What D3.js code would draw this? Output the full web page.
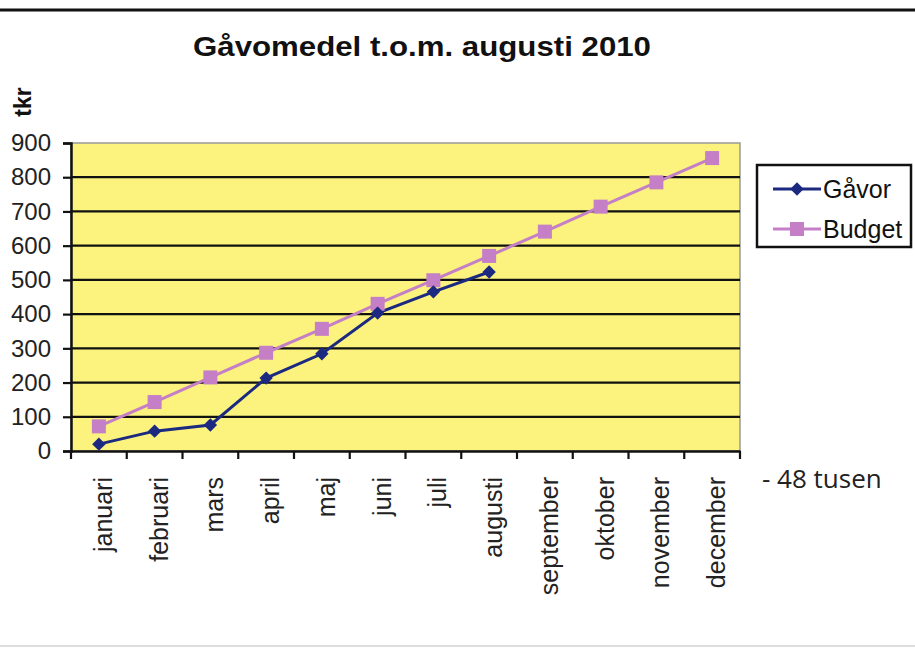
<!DOCTYPE html>
<html><head><meta charset="utf-8">
<script src="https://cdn.jsdelivr.net/npm/d3@7"></script>
<style>body{margin:0;background:#fff;}svg{display:block;}</style>
</head><body>
<svg id="c" width="915" height="650"></svg>
<script>
const months = ["januari","februari","mars","april","maj","juni","juli","augusti","september","oktober","november","december"];
const gavor = [20, 58, 76, 213, 284, 403, 465, 523];
const budget = [72, 143, 215, 287, 357, 430, 499, 570, 641, 714, 785, 856];
const yTicks = [0,100,200,300,400,500,600,700,800,900];
const title = "Gåvomedel t.o.m. augusti 2010";
const yLabel = "tkr";
const note = "- 48 tusen";
const seriesNames = ["Gåvor","Budget"];

const svg = d3.select("#c");
const L = 71, R = 740, T = 143, B = 451;
const x = d3.scaleBand().domain(months).range([L, R]).padding(0);
const y = d3.scaleLinear().domain([0, 900]).range([B, T]);
const FONT = "Liberation Sans, Arial, sans-serif";

// top border line
svg.append("line").attr("x1",0).attr("x2",915).attr("y1",10).attr("y2",10).attr("stroke","#111").attr("stroke-width",3);
svg.append("line").attr("x1",0).attr("x2",915).attr("y1",646).attr("y2",646).attr("stroke","#ddd").attr("stroke-width",2);

// plot background
svg.append("rect").attr("x",L).attr("y",T).attr("width",R-L).attr("height",B-T).attr("fill","#fbf37e").attr("stroke","#999").attr("stroke-width",1.5);

// gridlines
svg.append("g").selectAll("line").data(yTicks.filter(d=>d>0 && d<900)).join("line")
  .attr("x1",L).attr("x2",R).attr("y1",d=>y(d)).attr("y2",d=>y(d))
  .attr("stroke","#111").attr("stroke-width",2.2);

// y axis
const ya = svg.append("g").attr("transform",`translate(${L},0)`)
  .call(d3.axisLeft(y).tickValues(yTicks).tickSize(8).tickPadding(12));
ya.select(".domain").attr("stroke","#111").attr("stroke-width",2.5);
ya.selectAll(".tick line").attr("stroke","#111").attr("stroke-width",2.2);
ya.selectAll("text").attr("font-family",FONT).attr("font-size",24).attr("fill","#222");

// x axis
const xa = svg.append("g").attr("transform",`translate(0,${B})`)
  .call(d3.axisBottom(x).tickSize(0).tickFormat(""));
xa.select(".domain").attr("stroke","#111").attr("stroke-width",2.5);
// category boundary ticks
svg.append("g").selectAll("line").data(months.concat(["_end"])).join("line")
  .attr("x1",(d,i)=> i<months.length ? x(d) : R).attr("x2",(d,i)=> i<months.length ? x(d) : R)
  .attr("y1",B).attr("y2",B+8).attr("stroke","#111").attr("stroke-width",2.2);

// x labels
svg.append("g").selectAll("text").data(months).join("text")
  .attr("transform",d=>`translate(${x(d)+x.bandwidth()/2+13},${B+26}) rotate(-90)`)
  .attr("text-anchor","end")
  .attr("font-family",FONT).attr("font-size",25).attr("fill","#222")
  .text(d=>d);

// lines
const line = d3.line().x((d,i)=>x(months[i])+x.bandwidth()/2).y(d=>y(d));
const cB = "#c47fc6", cG = "#1b2a80";
svg.append("path").datum(budget).attr("d",line).attr("fill","none").attr("stroke",cB).attr("stroke-width",3);
svg.append("path").datum(gavor).attr("d",line).attr("fill","none").attr("stroke",cG).attr("stroke-width",3);
svg.append("g").selectAll("rect").data(budget).join("rect")
  .attr("x",(d,i)=>x(months[i])+x.bandwidth()/2-7).attr("y",d=>y(d)-7)
  .attr("width",14).attr("height",14).attr("fill",cB);
svg.append("g").selectAll("path").data(gavor).join("path")
  .attr("d",d3.symbol(d3.symbolSquare, 90)())
  .attr("transform",(d,i)=>`translate(${x(months[i])+x.bandwidth()/2},${y(d)}) rotate(45)`)
  .attr("fill",cG);

// title
svg.append("text").attr("x",422).attr("y",56).attr("text-anchor","middle")
  .attr("font-family","Liberation Sans Narrow, Arial Narrow, Liberation Sans, sans-serif").attr("font-weight","bold")
  .attr("font-size",27).attr("fill","#111").attr("textLength",458).attr("lengthAdjust","spacingAndGlyphs")
  .text(title);

// y label
svg.append("text").attr("transform","translate(31,102) rotate(-90)").attr("text-anchor","middle")
  .attr("font-family",FONT).attr("font-weight","bold").attr("font-size",23).attr("fill","#111")
  .text(yLabel);

// legend
const lg = svg.append("g");
lg.append("rect").attr("x",757).attr("y",165).attr("width",154).attr("height",82).attr("fill","#fff").attr("stroke","#111").attr("stroke-width",2.5);
[0,1].forEach(i=>{
  const yy = 189 + i*40, col = i===0?cG:cB;
  lg.append("line").attr("x1",773).attr("x2",821).attr("y1",yy).attr("y2",yy).attr("stroke",col).attr("stroke-width",3);
  if(i===0) lg.append("path").attr("d",d3.symbol(d3.symbolSquare,90)()).attr("transform",`translate(797,${yy}) rotate(45)`).attr("fill",col);
  else lg.append("rect").attr("x",790).attr("y",yy-7).attr("width",14).attr("height",14).attr("fill",col);
  lg.append("text").attr("x",823).attr("y",yy+9).attr("font-family",FONT).attr("font-size",25).attr("fill","#111").text(seriesNames[i]);
});

// note
svg.append("text").attr("x",762).attr("y",488).attr("font-family","Open Sans, sans-serif").attr("font-size",26).attr("fill","#222").text(note);
</script>
</body></html>
